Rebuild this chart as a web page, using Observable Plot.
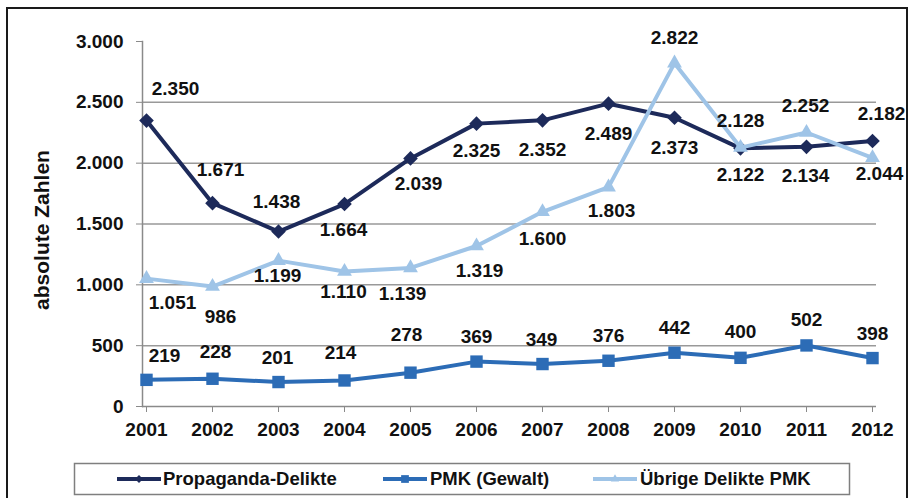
<!DOCTYPE html>
<html><head><meta charset="utf-8">
<script src="https://cdn.jsdelivr.net/npm/d3@7"></script>
<script src="https://cdn.jsdelivr.net/npm/@observablehq/plot@0.6"></script>
<style>
body{margin:0;background:#fff;font-family:"Liberation Sans",Arial,sans-serif;}
#wrap{position:relative;width:911px;height:498px;overflow:hidden;background:#fff}
#frame{position:absolute;left:6px;top:7px;width:902px;height:530px;border:2px solid #1a1a1a;box-sizing:border-box}
#chart{position:absolute;left:0;top:0}
#legend{position:absolute;left:0;top:0}
</style></head><body>
<div id="wrap"><div id="frame"></div><div id="chart"></div><svg id="legend" width="911" height="498"></svg></div>
<script>
// ---- data ----
const years = [2001,2002,2003,2004,2005,2006,2007,2008,2009,2010,2011,2012];
const propaganda = [2350,1671,1438,1664,2039,2325,2352,2489,2373,2122,2134,2182];
const gewalt = [219,228,201,214,278,369,349,376,442,400,502,398];
const uebrige = [1051,986,1199,1110,1139,1319,1600,1803,2822,2128,2252,2044];
const seriesNames = ["Propaganda-Delikte","PMK (Gewalt)","Übrige Delikte PMK"];
const yTicks = [0,500,1000,1500,2000,2500,3000];
const yTitle = "absolute Zahlen";

// ---- label placement (style) ----
const propDx = [29,8,-2,-1,8,0,0,0,0,0,-1,9];
const propDy = [-32,-33,-30,26,25,27,30,30,30,27,29,-27];
const uebDx = [26,8,-1,-1,-8,3,0,3,0,0,-1,7];
const uebDy = [24,30,15,20,26,25,27,24,-25,-27,-27,16];
const gewDx = [18,3,-1,-4,-4,0,-1,0,0,0,0,0];
const gewDy = [-24,-27,-24,-28,-38,-25,-24,-25,-25,-26,-26,-24];

const colors = ["#1d2a5a","#2c6cb6","#9fc4e7"];
const symbols = ["diamond2","square","triangle"];

const loc = d3.formatLocale({decimal:",", thousands:".", grouping:[3], currency:["","€"]});
const fmt = loc.format(",d");

const mk = (vals, name) => years.map((yr,i)=>({year:yr, value:vals[i], series:name, i}));
const dProp = mk(propaganda, seriesNames[0]);
const dGew = mk(gewalt, seriesNames[1]);
const dUeb = mk(uebrige, seriesNames[2]);

const font = "Liberation Sans, Arial, sans-serif";
const FS = 19;
const labelMarks = (data, dxs, dys) => data.map((d,i)=>Plot.text([d], {x:"year", y:"value", text:d=>fmt(d.value), dx:dxs[i], dy:dys[i], fontSize:FS, fontWeight:"bold", fill:"#111"}));

const chart = Plot.plot({
  width:911, height:450,
  marginLeft:142, marginRight:35, marginTop:41, marginBottom:44,
  style:{fontFamily:font, fontSize:FS+"px", fontWeight:"bold", color:"#111", background:"transparent"},
  x:{type:"point", domain:years, padding:0},
  y:{domain:[0,3000]},
  marks:[
    Plot.gridY(yTicks.filter(t=>t>0&&t<3000), {stroke:"#999", strokeOpacity:1, strokeWidth:1.5}),
    Plot.axisY({ticks:yTicks, tickSize:6, tickPadding:13, tickFormat:fmt, stroke:"#8a8a8a", fill:"#111", fontSize:FS, label:null}),
    Plot.axisX({tickSize:6, tickPadding:10, tickFormat:d=>String(d), stroke:"#8a8a8a", fill:"#111", fontSize:FS, label:null}),
    Plot.frame({anchor:"left", stroke:"#8a8a8a", strokeWidth:1.5}),
    Plot.ruleY([0], {stroke:"#8a8a8a", strokeWidth:1.5}),
    Plot.text([yTitle], {frameAnchor:"left", textAnchor:"middle", rotate:-90, dx:-100, dy:6, fontSize:21, fontWeight:"bold", fill:"#111"}),
    Plot.line(dGew, {x:"year", y:"value", stroke:colors[1], strokeWidth:4}),
    Plot.dot(dGew, {x:"year", y:"value", symbol:symbols[1], r:7, fill:colors[1], stroke:null}),
    Plot.line(dProp, {x:"year", y:"value", stroke:colors[0], strokeWidth:4}),
    Plot.dot(dProp, {x:"year", y:"value", symbol:symbols[0], r:6.6, fill:colors[0], stroke:null}),
    Plot.line(dUeb, {x:"year", y:"value", stroke:colors[2], strokeWidth:4}),
    Plot.dot(dUeb, {x:"year", y:"value", symbol:symbols[2], r:5.5, fill:colors[2], stroke:null}),
    ...labelMarks(dProp, propDx, propDy),
    ...labelMarks(dUeb, uebDx, uebDy),
    ...labelMarks(dGew, gewDx, gewDy)
  ]
});
document.getElementById("chart").appendChild(chart);

// ---- legend ----
const lg = d3.select("#legend");
lg.append("rect").attr("x",74.5).attr("y",463.5).attr("width",775).attr("height",31)
  .attr("fill","#fff").attr("stroke","#7f7f7f").attr("stroke-width",1.5);
const items = [{x0:117,x1:161,tx:163},{x0:383,x1:427,tx:430},{x0:593,x1:637,tx:640}];
const symGen = [d3.symbolDiamond2, d3.symbolSquare, d3.symbolTriangle];
const symSize = [40, 60, 30];
items.forEach((it,k)=>{
  const cy = 479;
  lg.append("line").attr("x1",it.x0).attr("x2",it.x1).attr("y1",cy).attr("y2",cy)
    .attr("stroke",colors[k]).attr("stroke-width",4);
  lg.append("path").attr("d", d3.symbol(symGen[k], symSize[k])())
    .attr("transform",`translate(${(it.x0+it.x1)/2},${cy})`).attr("fill",colors[k]);
  lg.append("text").attr("x",it.tx).attr("y",cy).attr("dy","0.35em")
    .attr("font-family",font).attr("font-size",18.5).attr("font-weight","bold").attr("fill","#111")
    .text(seriesNames[k]);
});
</script>
</body></html>
